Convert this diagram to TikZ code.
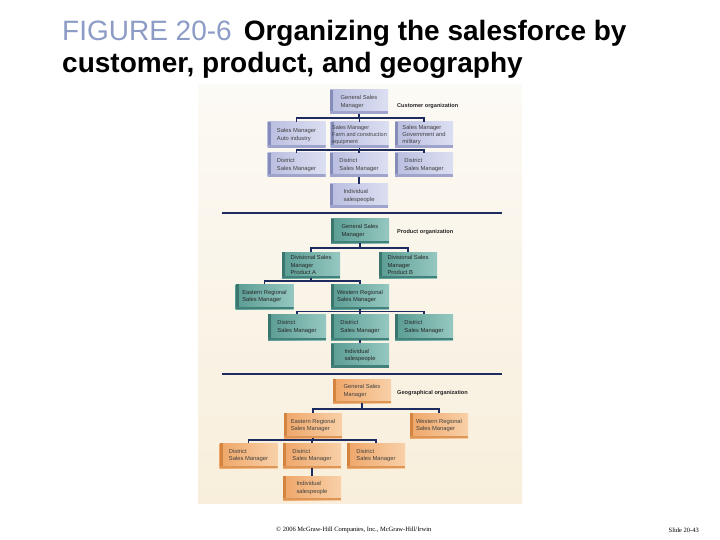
\documentclass[tikz,border=0pt]{standalone}
\usepackage{fontspec}
\setmainfont{Liberation Sans}
\newfontfamily\footfont{Liberation Serif}
\definecolor{navy}{HTML}{1E2B5E}
\definecolor{bgtop}{HTML}{FCFAF5}
\definecolor{bgbot}{HTML}{F8EEDB}
\definecolor{titleblue}{HTML}{8C9CC6}
\definecolor{cl}{HTML}{B9BEE0}
\definecolor{cr}{HTML}{DCDFF1}
\definecolor{cedge}{HTML}{858CBA}
\definecolor{cshad}{HTML}{9EA4CC}
\definecolor{pl}{HTML}{5A9C93}
\definecolor{pr}{HTML}{95C8C0}
\definecolor{pedge}{HTML}{3A756E}
\definecolor{pshad}{HTML}{42807A}
\definecolor{gl}{HTML}{EFA668}
\definecolor{gr}{HTML}{F8D0A8}
\definecolor{gedge}{HTML}{D4843E}
\definecolor{gshad}{HTML}{DE9656}
\tikzset{
  orgbox/.style={minimum width=58pt, minimum height=24pt, inner sep=1pt,
    align=left, font=\fontsize{5.8}{7.2}\selectfont, text=black!75},
  bevel/.style 2 args={path picture={
    \fill[#1] (path picture bounding box.south west) rectangle ([xshift=3pt]path picture bounding box.north west);
    \fill[#2] (path picture bounding box.south west) rectangle ([yshift=2.5pt]path picture bounding box.south east);}},
  cust/.style={orgbox, left color=cl, right color=cr, bevel={cedge}{cshad}},
  prod/.style={orgbox, left color=pl, right color=pr, bevel={pedge}{pshad}, text=black!85},
  geo/.style={orgbox, left color=gl, right color=gr, bevel={gedge}{gshad}},
  conn/.style={draw=navy, line width=1.8pt},
  divider/.style={draw=navy, line width=2pt},
  seclabel/.style={anchor=west, font=\bfseries\fontsize{5.6}{7}\selectfont, text=black!85, inner sep=0pt},
}
\begin{document}
\begin{tikzpicture}[x=1pt,y=-1pt]
\useasboundingbox (0,0) rectangle (720,540);
\fill[white] (0,0) rectangle (720,540);
% title
\node[anchor=base west, inner sep=0pt, font=\fontsize{28}{32}\selectfont] (t1) at (62,41)
  {\textcolor{titleblue}{FIGURE 20-6}\hspace{12pt}\textbf{Organizing the salesforce by}};
\node[anchor=base west, inner sep=0pt, font=\bfseries\fontsize{28}{32}\selectfont] (t2) at (62,73)
  {customer, product, and geography};
% chart background
\fill[top color=bgtop, bottom color=bgbot] (198,85) rectangle (522,503);
% ---------------- customer ----------------
\coordinate (cb1) at (0,118);
\coordinate (cb2) at (0,150);
\node[cust] (c0) at (359,102) {General Sales\\Manager};
\node[cust, minimum height=26pt] (c1) at (296.5,135) {Sales Manager\\Auto industry};
\node[cust, minimum height=26pt, inner xsep=0pt, font=\fontsize{5.5}{7.2}\selectfont] (c2) at (359.5,135) {Sales Manager\\Farm and construction\\equipment};
\node[cust, minimum height=26pt] (c3) at (424,135) {Sales Manager\\Government and\\military};
\node[cust] (d1) at (296.5,165) {District\\Sales Manager};
\node[cust] (d2) at (359,165) {District\\Sales Manager};
\node[cust] (d3) at (424,165) {District\\Sales Manager};
\node[cust] (ci) at (359,196) {Individual\\salespeople};
\node[seclabel] (cl) at (397,106) {Customer organization};
\draw[conn] (c0.south) -- (c0.south |- cb1);
\draw[conn] (c1.north) -- (c1.north |- cb1) -- (c3.north |- cb1) -- (c3.north);
\draw[conn] (c2.north) -- (c2.north |- cb1);
\draw[conn] (c2.south) -- (c2.south |- cb2);
\draw[conn] (d1.north) -- (d1.north |- cb2) -- (d3.north |- cb2) -- (d3.north);
\draw[conn] (d2.north) -- (d2.north |- cb2);
\draw[conn] (d2.south) -- (ci.north);
\coordinate (dv1a) at (222,213);
\coordinate (dv1b) at (502,213);
\draw[divider] (dv1a) -- (dv1b);
% ---------------- product ----------------
\coordinate (pb1) at (0,248);
\coordinate (pb2) at (0,281);
\coordinate (pb3) at (0,311.5);
\node[prod] (p0) at (360,231) {General Sales\\Manager};
\node[prod, minimum height=26pt] (pa) at (311,265) {Divisional Sales\\Manager\\Product A};
\node[prod, minimum height=26pt] (pbb) at (408,265) {Divisional Sales\\Manager\\Product B};
\node[prod, minimum height=25pt] (pe) at (264.5,296.5) {Eastern Regional\\Sales Manager};
\node[prod, minimum height=25pt] (pw) at (360,296.5) {Western Regional\\Sales Manager};
\node[prod, minimum height=26pt] (pd1) at (297,327) {District\\Sales Manager};
\node[prod, minimum height=26pt] (pd2) at (360,327) {District\\Sales Manager};
\node[prod, minimum height=26pt] (pd3) at (424,327) {District\\Sales Manager};
\node[prod] (pi) at (360,355.5) {Individual\\salespeople};
\node[seclabel] (pl) at (397,232) {Product organization};
\draw[conn] (p0.south) -- (p0.south |- pb1);
\draw[conn] (pa.north) -- (pa.north |- pb1) -- (pbb.north |- pb1) -- (pbb.north);
\draw[conn] (pa.south) -- (pa.south |- pb2);
\draw[conn] (pe.north) -- (pe.north |- pb2) -- (pw.north |- pb2) -- (pw.north);
\draw[conn] (pw.south) -- (pw.south |- pb3);
\draw[conn] (pd1.north) -- (pd1.north |- pb3) -- (pd3.north |- pb3) -- (pd3.north);
\draw[conn] (pd2.north) -- (pd2.north |- pb3);
\draw[conn] (pd2.south) -- (pi.north);
\coordinate (dv2a) at (222,374);
\coordinate (dv2b) at (502,374);
\draw[divider] (dv2a) -- (dv2b);
% ---------------- geographical ----------------
\coordinate (gb1) at (0,409);
\coordinate (gb2) at (0,440);
\node[geo] (g0) at (362,391) {General Sales\\Manager};
\node[geo, minimum height=25pt] (ge) at (313,425.5) {Eastern Regional\\Sales Manager};
\node[geo, minimum height=25pt] (gw) at (439,425.5) {Western Regional\\Sales Manager};
\node[geo, minimum height=25pt] (gd1) at (248.5,455.5) {District\\Sales Manager};
\node[geo, minimum height=25pt] (gd2) at (312,455.5) {District\\Sales Manager};
\node[geo, minimum height=25pt] (gd3) at (376,455.5) {District\\Sales Manager};
\node[geo] (gi) at (312,488) {Individual\\salespeople};
\node[seclabel] (gl) at (397,393) {Geographical organization};
\draw[conn] (g0.south) -- (g0.south |- gb1);
\draw[conn] (ge.north) -- (ge.north |- gb1) -- (gw.north |- gb1) -- (gw.north);
\draw[conn] (ge.south) -- (ge.south |- gb2);
\draw[conn] (gd1.north) -- (gd1.north |- gb2) -- (gd3.north |- gb2) -- (gd3.north);
\draw[conn] (gd2.north) -- (gd2.north |- gb2);
\draw[conn] (gd2.south) -- (gi.north);
% footer
\node[anchor=west, inner sep=0pt, font=\footfont\fontsize{6.5}{8}\selectfont] (f1) at (276,530)
  {\textcopyright{} 2006 McGraw-Hill Companies, Inc., McGraw-Hill/Irwin};
\node[anchor=east, inner sep=0pt, font=\footfont\fontsize{6.5}{8}\selectfont] (f2) at (699,530)
  {Slide 20-43};
\end{tikzpicture}
\end{document}
